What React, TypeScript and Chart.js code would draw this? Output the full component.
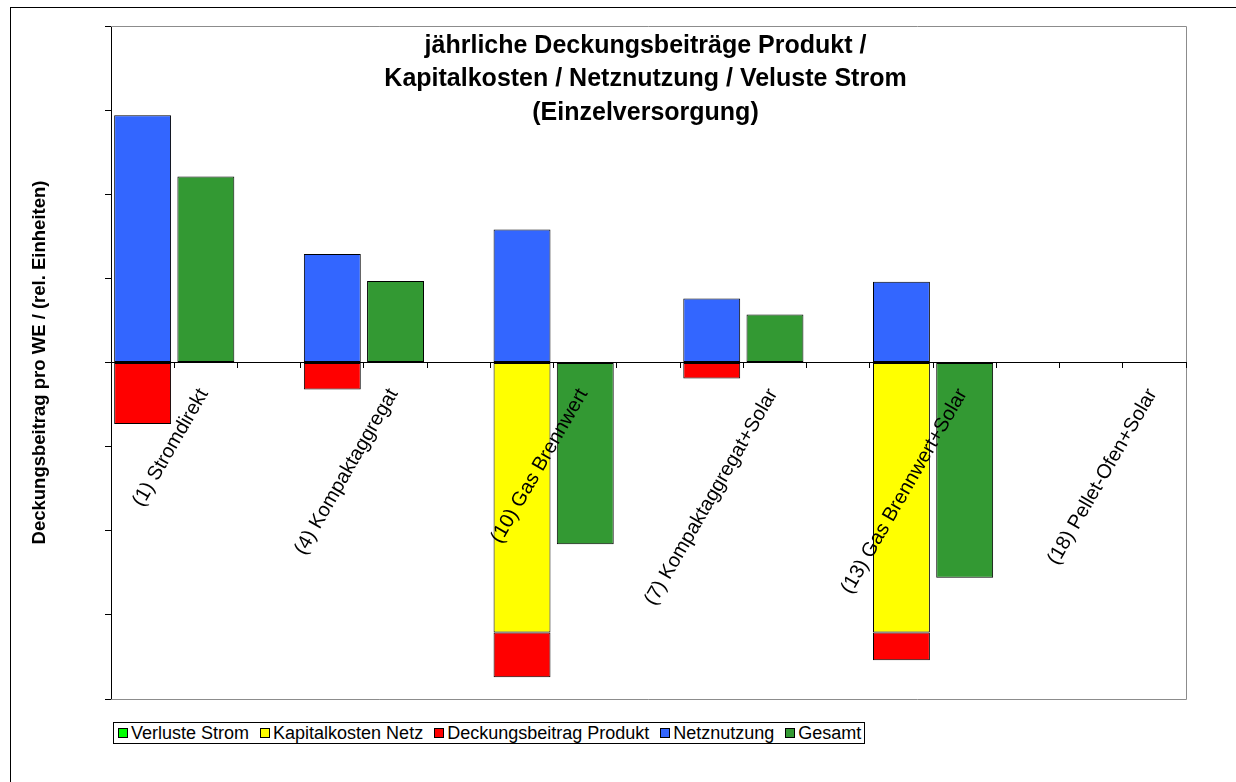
import React, { useEffect, useRef } from "react";
import { Chart, registerables } from "chart.js";

Chart.register(...registerables);

const FONT = '"Liberation Sans", Arial, Helvetica, sans-serif';

// Heating systems compared (one group of columns each)
const systems = [
  "(1) Stromdirekt",
  "(4) Kompaktaggregat",
  "(10) Gas Brennwert",
  "(7) Kompaktaggregat+Solar",
  "(13) Gas Brennwert+Solar",
  "(18) Pellet-Ofen+Solar",
];

// Yearly contributions per dwelling unit, relative units
const verlusteStrom = [0, 0, 0, 0, 0, 0];
const kapitalkostenNetz = [0, 0, -3.21, 0, -3.21, 0];
const deckungsbeitragProdukt = [-0.73, -0.32, -0.53, -0.19, -0.33, 0];
const netznutzung = [2.94, 1.29, 1.58, 0.76, 0.96, 0];
const gesamt = [2.21, 0.97, -2.16, 0.57, -2.56, 0];

// Value axis: unlabeled ticks
const yMin = -4;
const yMax = 4;
const yStep = 1;

const titleLines = [
  "jährliche Deckungsbeiträge Produkt /",
  "Kapitalkosten / Netznutzung / Veluste Strom",
  "(Einzelversorgung)",
];
const yAxisTitle = "Deckungsbeitrag pro WE / (rel. Einheiten)";

// Each system takes three slots: component stack, total, spacer
const SLOTS = systems.length * 3 - 1;
const slotLabels = Array.from({ length: SLOTS }, (_, k) =>
  k % 3 === 1 ? systems[Math.floor(k / 3)] : ""
);
const place = (vals: number[], offset: number) =>
  Array.from({ length: SLOTS }, (_, k) => {
    if (k % 3 !== offset) return null;
    const v = vals[Math.floor(k / 3)];
    return v === 0 ? null : v;
  });

const series = [
  { label: "Verluste Strom", values: verlusteStrom, color: "#00FF00", slot: 0 },
  { label: "Kapitalkosten Netz", values: kapitalkostenNetz, color: "#FFFF00", slot: 0 },
  { label: "Deckungsbeitrag Produkt", values: deckungsbeitragProdukt, color: "#FF0000", slot: 0 },
  { label: "Netznutzung", values: netznutzung, color: "#3366FF", slot: 0 },
  { label: "Gesamt", values: gesamt, color: "#339933", slot: 1 },
];

const plotFrame = {
  id: "plotFrame",
  beforeDatasetsDraw(chart: any) {
    const { ctx, chartArea: a } = chart;
    ctx.save();
    ctx.strokeStyle = "#8c8c8c";
    ctx.lineWidth = 1;
    ctx.beginPath();
    ctx.moveTo(a.left, a.top + 0.5);
    ctx.lineTo(a.right + 0.5, a.top + 0.5);
    ctx.lineTo(a.right + 0.5, a.bottom + 0.5);
    ctx.lineTo(a.left, a.bottom + 0.5);
    ctx.stroke();
    ctx.restore();
  },
};

const innerTitle = {
  id: "innerTitle",
  afterDraw(chart: any) {
    const { ctx, chartArea: a } = chart;
    ctx.save();
    ctx.font = `bold 25px ${FONT}`;
    ctx.fillStyle = "#000";
    ctx.textAlign = "center";
    ctx.textBaseline = "middle";
    const cx = (a.left + a.right) / 2 - 3;
    titleLines.forEach((t, i) => ctx.fillText(t, cx, a.top + 20 + i * 33.5));
    ctx.restore();
  },
};

export default function App() {
  const ref = useRef<HTMLCanvasElement>(null);

  useEffect(() => {
    if (!ref.current) return;
    const chart = new Chart(ref.current, {
      type: "bar",
      data: {
        labels: slotLabels,
        datasets: series.map((s) => ({
          label: s.label,
          data: place(s.values, s.slot),
          backgroundColor: s.color,
          borderColor: "#000",
          borderWidth: 1,
          borderSkipped: false,
          barPercentage: 0.9,
          categoryPercentage: 1,
        })),
      },
      options: {
        responsive: false,
        animation: false,
        layout: { padding: { left: 0, top: 26, right: 50, bottom: 83 } },
        plugins: {
          legend: { display: false },
          title: { display: false },
          tooltip: { enabled: false },
        },
        scales: {
          x: {
            position: { y: 0 } as any,
            stacked: true,
            grid: {
              drawOnChartArea: false,
              drawTicks: true,
              tickLength: 5,
              color: "#000",
              offset: true,
              z: 1,
            },
            border: { display: true, color: "#000", width: 1, z: 1 },
            ticks: {
              autoSkip: false,
              minRotation: 60,
              maxRotation: 60,
              padding: 17,
              labelOffset: -2,
              color: "#000",
              font: { family: FONT, size: 20 },
              z: 1,
            },
            afterFit: (s: any) => {
              s.height = 0;
            },
          },
          y: {
            min: yMin,
            max: yMax,
            stacked: true,
            ticks: { display: false, stepSize: yStep },
            grid: {
              drawOnChartArea: false,
              drawTicks: true,
              tickLength: 6,
              color: "#000",
            },
            border: { display: true, color: "#000", width: 1 },
            title: {
              display: true,
              text: yAxisTitle,
              color: "#000",
              font: { family: FONT, size: 18.5, weight: "bold" },
              padding: { top: 29, bottom: 0 },
            },
            afterFit: (s: any) => {
              s.width = 111;
            },
          },
        },
      },
      plugins: [plotFrame, innerTitle],
    });
    return () => chart.destroy();
  }, []);

  return (
    <div
      style={{
        position: "absolute",
        left: 0,
        top: 0,
        width: 1236,
        height: 782,
        background: "#fff",
        overflow: "hidden",
        fontFamily: FONT,
      }}
    >
      <div
        style={{
          position: "absolute",
          left: 10,
          top: 7,
          width: 1300,
          height: 900,
          border: "1px solid #000",
        }}
      />
      <canvas
        ref={ref}
        width={1236}
        height={782}
        style={{ position: "absolute", left: 0, top: 0, width: 1236, height: 782 }}
      />
      <div
        style={{
          position: "absolute",
          left: 113,
          top: 722,
          height: 20,
          border: "1px solid #000",
          display: "flex",
          alignItems: "center",
          padding: "0 3px 0 4px",
          fontSize: 18,
          lineHeight: "20px",
          color: "#000",
          whiteSpace: "nowrap",
          background: "#fff",
        }}
      >
        {series.map((s, i) => (
          <div key={s.label} style={{ display: "flex", alignItems: "center", marginLeft: i === 0 ? 0 : 11 }}>
            <span
              style={{
                display: "inline-block",
                width: 8,
                height: 8,
                background: s.color,
                border: "1px solid #000",
                marginRight: 3,
              }}
            />
            <span>{s.label}</span>
          </div>
        ))}
      </div>
    </div>
  );
}
